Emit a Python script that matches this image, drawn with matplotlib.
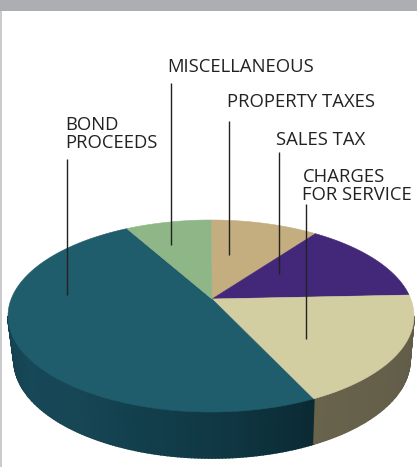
import numpy as np
import matplotlib
matplotlib.use("Agg")
import matplotlib.pyplot as plt
from matplotlib.colors import LinearSegmentedColormap

# Data: clockwise from 12 o'clock
categories = ["PROPERTY TAXES", "SALES TAX", "CHARGES\nFOR SERVICE", "BOND\nPROCEEDS", "MISCELLANEOUS"]
shares = [8.6, 12.9, 20.1, 51.6, 6.8]
top_colors = ["#c4ad7e", "#43287a", "#d3cea2", "#1f5c6c", "#8fb686"]

# Layout in pixels
W, H = 417, 467
CX, CY, RX, RY = 211, 316, 203, 96      # top ellipse
BX, BY, BRX, BRY = 212, 360, 198, 98    # bottom ellipse
AX_, AY_ = 212, 299                     # apex
label_pos = [(227.5, 102), (276.5, 140), (302.5, 185.5), (65, 134.5), (167.5, 66.5)]
leader_x = [229, 279, 306, 67, 171]
leader_top = [121, 152, 204, 159, 83]
leader_bot = [255, 274, 339, 295, 245]

fig = plt.figure(figsize=(W / 100, H / 100), dpi=100, facecolor="white")
ax = fig.add_axes([0, 0, 1, 1])
ax.set_xlim(0, W)
ax.set_ylim(H, 0)
ax.axis("off")

# page bands
ax.fill_between([0, W], 0, 11, color="#acaeb1", lw=0)
ax.fill_between([0, 2], 11, H, color="#c9cbcc", lw=0)

def top(t):
    return CX + RX * np.cos(t), CY - RY * np.sin(t)

def bot(t):
    return BX + BRX * np.cos(t), BY - BRY * np.sin(t)

edges = 90 - np.concatenate([[0], np.cumsum(shares)]) * 3.6  # degrees, clockwise

# side walls
side_bond = LinearSegmentedColormap.from_list(
    "b", ["#123f4c", "#174857", "#174655", "#123e4b", "#0f3642", "#0b2a33"])
side_charge = LinearSegmentedColormap.from_list("c", ["#69634c", "#615c48"])
steps = np.radians(np.arange(180, 360.01, 1.0))
charge_bond = np.radians(edges[3] % 360)
for a, b in zip(steps[:-1], steps[1:]):
    x1, y1 = top(a); x2, y2 = top(b)
    x3, y3 = bot(b); x4, y4 = bot(a)
    if a < charge_bond:
        c = side_bond((a - np.pi) / (charge_bond - np.pi))
    else:
        c = side_charge((a - charge_bond) / (2 * np.pi - charge_bond))
    ax.fill([x1, x2, x3, x4], [y1, y2, y3, y4], color=c, lw=1.2, ec=c)

# top wedges
for i, col in enumerate(top_colors):
    t = np.radians(np.linspace(edges[i], edges[i + 1], 200))
    x, y = top(t)
    ax.fill(np.r_[AX_, x], np.r_[AY_, y], color=col, lw=0.4, ec=col, zorder=3)

# leaders and labels
for name, (lx, ly), x, y0, y1 in zip(categories, label_pos, leader_x, leader_top, leader_bot):
    ax.plot([x, x], [y0, y1], color="#222222", lw=1.0, zorder=4, solid_capstyle="butt")
    ax.text(lx, ly, name, family="Open Sans", fontsize=13.3, color="#222222",
            va="center", ha="left", linespacing=1.0, zorder=5)

fig.savefig("out.png", dpi=100)
